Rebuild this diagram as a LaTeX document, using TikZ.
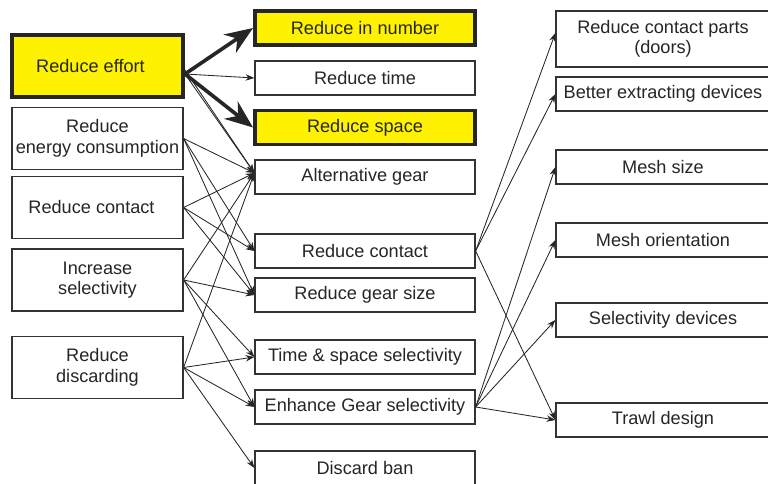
\documentclass[tikz,border=0pt]{standalone}
\usepackage{fontspec}
\setmainfont{Liberation Sans}
\usetikzlibrary{arrows.meta}

\begin{document}
\begin{tikzpicture}[x=0.025cm,y=-0.025cm,
  box/.style={draw=black!80,line width=0.85pt,fill=white,inner sep=0pt,align=center,text=black!85,font=\fontsize{12.9}{14.5}\selectfont},
  hot/.style={box,fill=yellow,draw=black!85,line width=2.8pt},
  lbox/.style={minimum width=4.275cm,minimum height=1.55cm},
  mbox/.style={minimum width=5.5cm,minimum height=0.85cm},
  rbox/.style={minimum width=5.35cm,minimum height=0.85cm},
  lnk/.style={-{Stealth[length=2.2mm,width=1.6mm]},line width=0.6pt,draw=black!85},
  big/.style={-{Stealth[length=7mm,width=5.5mm]},line width=2.6pt,draw=black!85}]
\useasboundingbox (0,0) rectangle (768,484);
% left column
\node[hot,lbox] (effort) at (97.5,66) {Reduce effort\hspace*{0.35cm}};
\node[box,lbox] (energy) at (97.5,138.5) {Reduce\\energy consumption};
\node[box,lbox] (contactL) at (97.5,207.5) {Reduce contact\hspace*{0.3cm}};
\node[box,lbox] (select) at (97.5,280) {Increase\\selectivity};
\node[box,lbox] (discard) at (97.5,367.5) {Reduce\\discarding};
% middle column
\node[hot,mbox] (number) at (365,28) {Reduce in number};
\node[box,mbox] (time) at (365,78) {Reduce time};
\node[hot,mbox] (space) at (365,127.5) {Reduce space};
\node[box,mbox] (alt) at (365,177) {Alternative gear};
\node[box,mbox] (contactM) at (365,251) {Reduce contact};
\node[box,mbox] (gearsize) at (365,295) {Reduce gear size};
\node[box,mbox] (timespace) at (365,357) {Time \& space selectivity};
\node[box,mbox] (enhance) at (365,407) {Enhance Gear selectivity};
\node[box,mbox] (ban) at (365,468) {Discard ban};
% right column
\node[box,rbox,minimum height=1.4cm] (doors) at (663,39) {Reduce contact parts\\(doors)};
\node[box,rbox] (extract) at (663,94) {Better extracting devices};
\node[box,rbox] (mesh) at (663,167) {Mesh size};
\node[box,rbox] (orient) at (663,240) {Mesh orientation};
\node[box,rbox] (seldev) at (663,320) {Selectivity devices};
\node[box,rbox] (trawl) at (663,420) {Trawl design};
% links from the left
\draw[big] ([yshift=-0.2cm]effort.east) -- (number.west);
\draw[big] ([yshift=-0.2cm]effort.east) -- (space.west);
\draw[lnk] ([yshift=-0.2cm]effort.east) -- (time.west);
\draw[lnk] ([yshift=-0.2cm]effort.east) -- ([yshift=0.1cm]alt.west);
\draw[lnk] ([yshift=-0.1cm]effort.east) -- ([yshift=0.1cm]alt.west);
\draw[lnk] (energy.east) -- ([yshift=0.1cm]alt.west);
\draw[lnk] (energy.east) -- (contactM.west);
\draw[lnk] (energy.east) -- (gearsize.west);
\draw[lnk] (contactL.east) -- ([yshift=0.1cm]alt.west);
\draw[lnk] (contactL.east) -- (contactM.west);
\draw[lnk] (contactL.east) -- (gearsize.west);
\draw[lnk] (select.east) -- ([yshift=0.1cm]alt.west);
\draw[lnk] (select.east) -- (gearsize.west);
\draw[lnk] (select.east) -- (timespace.west);
\draw[lnk] (select.east) -- (enhance.west);
\draw[lnk] (discard.east) -- ([yshift=0.1cm]alt.west);
\draw[lnk] (discard.east) -- (timespace.west);
\draw[lnk] (discard.east) -- (enhance.west);
\draw[lnk] (discard.east) -- (ban.west);
% links to the right
\draw[lnk] (contactM.east) -- ([yshift=0.15cm]doors.west);
\draw[lnk] (contactM.east) -- (extract.west);
\draw[lnk] (contactM.east) -- (trawl.west);
\draw[lnk] (enhance.east) -- (mesh.west);
\draw[lnk] (enhance.east) -- (orient.west);
\draw[lnk] (enhance.east) -- (seldev.west);
\draw[lnk] (enhance.east) -- (trawl.west);
\end{tikzpicture}
\end{document}
